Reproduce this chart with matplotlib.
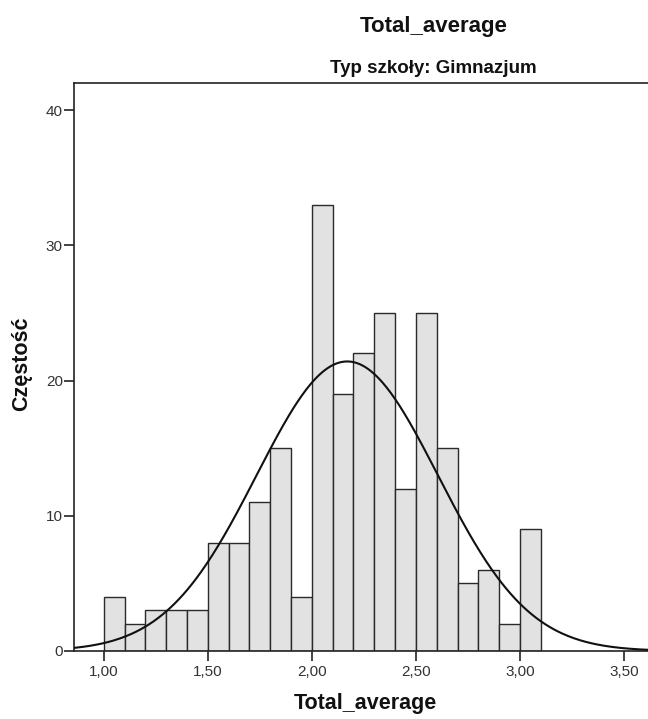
import numpy as np
import matplotlib
matplotlib.use('Agg')
import matplotlib.pyplot as plt

# Dane
bin_edges = np.round(np.arange(1.0, 3.11, 0.1), 2)
counts = [4, 2, 3, 3, 3, 8, 8, 11, 15, 4, 33, 19, 22, 25, 12, 25, 15, 5, 6, 2, 9]
mean = 2.17
sd = 0.436
xticks = [1.0, 1.5, 2.0, 2.5, 3.0, 3.5]
yticks = [0, 10, 20, 30, 40]

plt.rcParams['font.family'] = ['Liberation Sans', 'DejaVu Sans']

fig = plt.figure(figsize=(6.48, 7.19), dpi=100)
ax = fig.add_axes([74/648, 68/719, 575/648, 568/719])

widths = np.diff(bin_edges)
ax.bar(bin_edges[:-1], counts, width=widths, align='edge',
       color='#e2e2e2', edgecolor='#2a2a2a', linewidth=1.0, zorder=2)

# krzywa normalna
n = sum(counts)
bw = 0.1
xs = np.linspace(0.857, 3.62, 400)
ys = n*bw/(sd*np.sqrt(2*np.pi))*np.exp(-0.5*((xs - mean)/sd)**2)
ax.plot(xs, ys, color='#111111', linewidth=1.5, zorder=3)

ax.set_xlim(0.857, 3.62)
ax.set_ylim(0, 42)
ax.set_xticks(xticks)
ax.set_xticklabels([f'{v:.2f}'.replace('.', ',') for v in xticks])
ax.set_yticks(yticks)
ax.tick_params(axis='both', direction='out', length=7, width=1.2,
               color='#222222', labelsize=11, labelcolor='#333333')
ax.tick_params(axis='x', pad=3)
ax.tick_params(axis='y', pad=1)
for s in ['left', 'bottom', 'top']:
    ax.spines[s].set_color('#222222')
    ax.spines[s].set_linewidth(1.2)
ax.spines['right'].set_visible(False)

fig.text(434/648, 1 - 32/719, 'Total_average', ha='center', va='baseline',
         fontsize=16, fontweight='bold', color='#111111')
fig.text(433/648, 1 - 73/719, 'Typ szkoły: Gimnazjum', ha='center', va='baseline',
         fontsize=13.5, fontweight='bold', color='#111111')
fig.text(365/648, 1 - 704/719, 'Total_average', ha='center', va='center',
         fontsize=15.5, fontweight='bold', color='#111111')
fig.text(22/648, 1 - 364/719, 'Częstość', ha='center', va='center', rotation=90,
         fontsize=15.5, fontweight='bold', color='#111111')

fig.savefig('out.png', dpi=100)
